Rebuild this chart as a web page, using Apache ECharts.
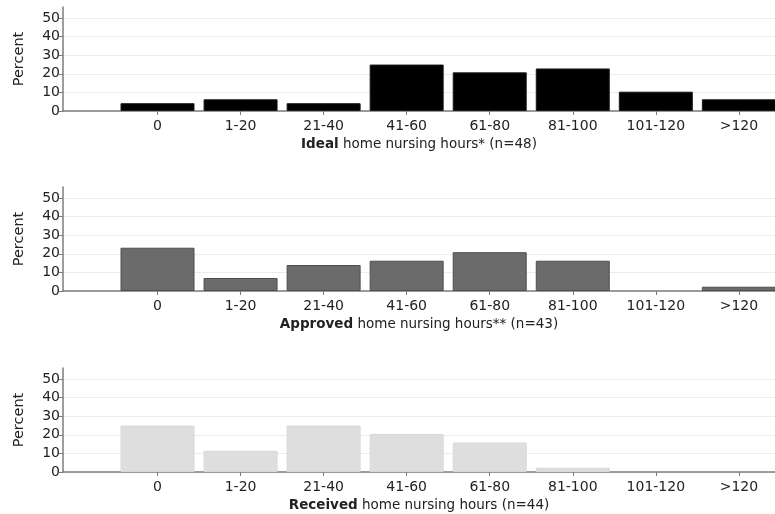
<!DOCTYPE html>
<html>
<head>
<meta charset="utf-8">
<script src="https://cdn.jsdelivr.net/npm/echarts@6/dist/echarts.min.js"></script>
<style>
html,body{margin:0;padding:0;background:#fff;}
#chart{width:775px;height:514px;}
</style>
</head>
<body>
<div id="chart"></div>
<script>
// ---- data ----
const categories = ['0', '1-20', '21-40', '41-60', '61-80', '81-100', '101-120', '>120'];
const yTicks = [0, 10, 20, 30, 40, 50];
const idealValues = [4.2, 6.3, 4.2, 25.0, 20.8, 22.9, 10.4, 6.3];
const approvedValues = [23.3, 7.0, 14.0, 16.3, 20.9, 16.3, 0, 2.3];
const receivedValues = [25.0, 11.4, 25.0, 20.5, 15.9, 2.3, 0, 0];
const panelTitles = [
  ['Ideal', ' home nursing hours* (n=48)'],
  ['Approved', ' home nursing hours** (n=43)'],
  ['Received', ' home nursing hours (n=44)']
];

const panels = [
  { values: idealValues, color: '#000000', border: '#1a1a1a', top: 7 },
  { values: approvedValues, color: '#6b6b6b', border: '#4f4f4f', top: 187 },
  { values: receivedValues, color: '#dedede', border: '#d8d8d8', top: 368 }
];

const FONT = 'DejaVu Sans';
const TXT = '#222222';
const AX = '#7d7d7d';
const catIdx = categories.map((c, i) => i);

const chart = echarts.init(document.getElementById('chart'));
const grid = [], xAxis = [], yAxis = [], series = [];

panels.forEach((p, k) => {
  grid.push({ left: 63, right: 0, top: p.top, height: 104, containLabel: false });
  xAxis.push({
    type: 'value', gridIndex: k, min: -1.138, max: 7.435,
    axisLine: { show: true, onZero: false, lineStyle: { color: AX, width: 1.5 } },
    axisTick: { show: true, customValues: catIdx, length: 4, lineStyle: { color: AX } },
    axisLabel: {
      customValues: catIdx, margin: 8,
      formatter: v => categories[Math.round(v)],
      fontFamily: FONT, fontSize: 14, color: TXT
    },
    splitLine: { show: false },
    name: '{b|' + panelTitles[k][0] + '}' + panelTitles[k][1],
    nameLocation: 'middle', nameGap: 26,
    nameTextStyle: {
      fontFamily: FONT, fontSize: 13.5, color: TXT,
      rich: { b: { fontFamily: FONT, fontSize: 13.5, fontWeight: 'bold', color: TXT } }
    }
  });
  yAxis.push({
    type: 'value', gridIndex: k, min: 0, max: 56,
    axisLine: { show: true, onZero: false, lineStyle: { color: AX, width: 1.5 } },
    axisTick: { show: true, customValues: yTicks, length: 4, lineStyle: { color: AX } },
    axisLabel: { customValues: yTicks, margin: 3, fontFamily: FONT, fontSize: 14, color: TXT },
    splitLine: { show: true, lineStyle: { color: '#ececec', width: 1 } },
    name: 'Percent', nameLocation: 'middle', nameGap: 36, nameRotate: 90,
    nameTextStyle: { fontFamily: FONT, fontSize: 14.5, color: TXT }
  });
  series.push({
    type: 'bar', xAxisIndex: k, yAxisIndex: k,
    barWidth: 74,
    data: p.values.map((v, i) => ({
      value: [i, v],
      itemStyle: { borderWidth: v === 0 ? 0 : 1 }
    })),
    itemStyle: { color: p.color, borderColor: p.border, borderWidth: 1 },
    silent: true
  });
});

chart.setOption({
  animation: false,
  backgroundColor: '#ffffff',
  grid, xAxis, yAxis, series
});
</script>
</body>
</html>
